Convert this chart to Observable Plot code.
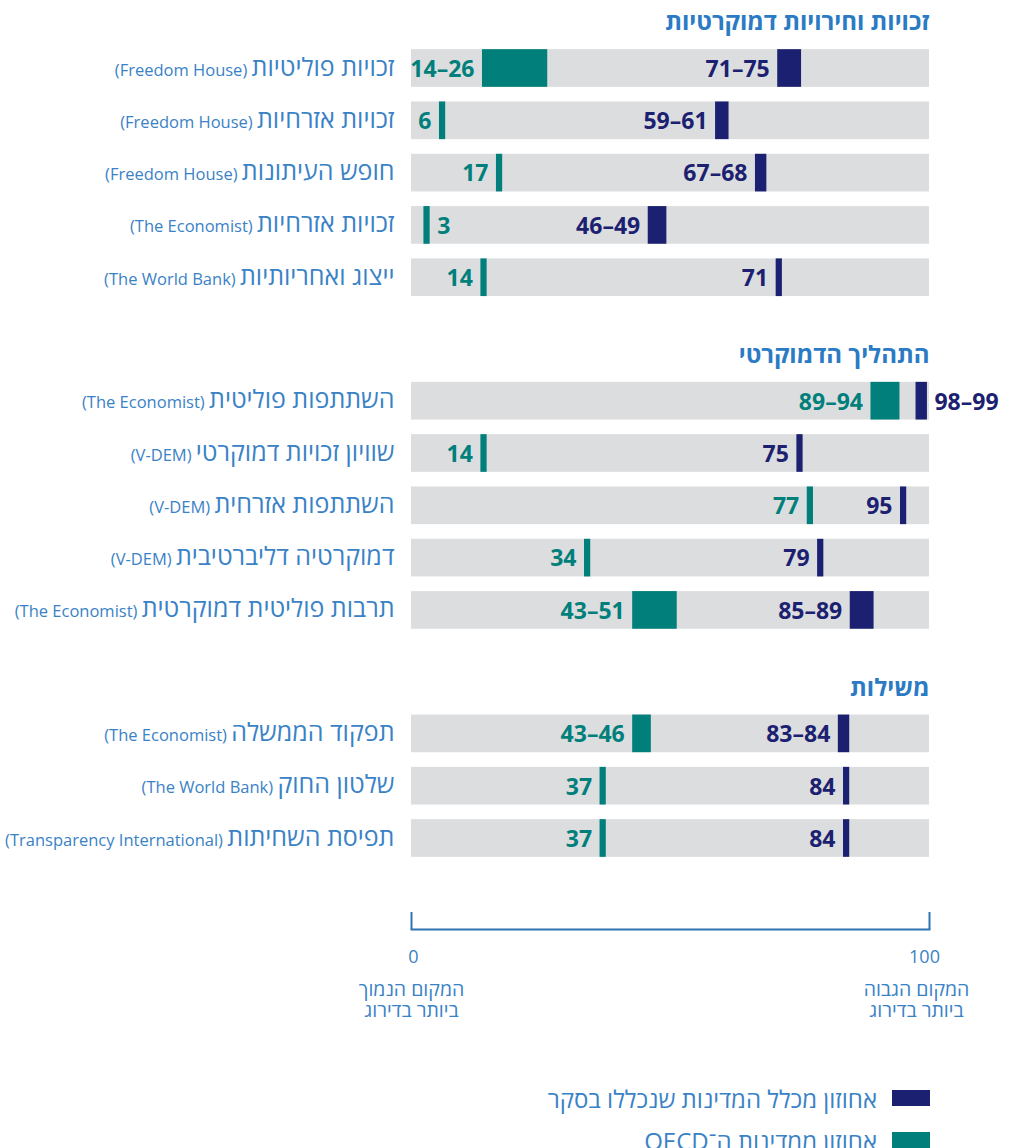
<!DOCTYPE html>
<html lang="he">
<head>
<meta charset="utf-8">
<script src="https://cdn.jsdelivr.net/npm/d3@7"></script>
<script src="https://cdn.jsdelivr.net/npm/@observablehq/plot@0.6"></script>
<style>
  html, body { margin: 0; padding: 0; background: #fff; }
  body { width: 1010px; font-family: "Open Sans", "Noto Sans", "DejaVu Sans", sans-serif; }
  #chart svg { display: block; }
  .legend { direction: rtl; padding-right: 80px; margin-top: 37px; }
  .legend .item { display: flex; align-items: center; gap: 15px; height: 42px; color: #3a82c6; font-size: 24px; }
  .legend .sw { width: 38px; height: 16px; flex: none; }
</style>
</head>
<body>
<div id="chart"></div>
<div class="legend" id="legend"></div>
<script>
// ---------- data ----------
const groupTitles = ["זכויות וחירויות דמוקרטיות", "התהליך הדמוקרטי", "משילות"];
const rowGroup = [0, 0, 0, 0, 0, 1, 1, 1, 1, 1, 2, 2, 2];
const rowNames = [
  "זכויות פוליטיות", "זכויות אזרחיות", "חופש העיתונות", "זכויות אזרחיות", "ייצוג ואחריותיות",
  "השתתפות פוליטית", "שוויון זכויות דמוקרטי", "השתתפות אזרחית", "דמוקרטיה דליברטיבית", "תרבות פוליטית דמוקרטית",
  "תפקוד הממשלה", "שלטון החוק", "תפיסת השחיתות"
];
const rowSources = [
  "Freedom House", "Freedom House", "Freedom House", "The Economist", "The World Bank",
  "The Economist", "V-DEM", "V-DEM", "V-DEM", "The Economist",
  "The Economist", "The World Bank", "Transparency International"
];
// percentile among all surveyed countries (low, high)
const allLow  = [71, 59, 67, 46, 71, 98, 75, 95, 79, 85, 83, 84, 84];
const allHigh = [75, 61, 68, 49, 71, 99, 75, 95, 79, 89, 84, 84, 84];
// percentile among OECD countries (low, high)
const oecdLow  = [14, 6, 17, 3, 14, 89, 14, 77, 34, 43, 43, 37, 37];
const oecdHigh = [26, 6, 17, 3, 14, 94, 14, 77, 34, 51, 46, 37, 37];
const axisTicks = [0, 100];
const axisNotes = ["המקום הנמוך\nביותר בדירוג", "המקום הגבוה\nביותר בדירוג"];
const legendLabels = ["אחוזון מכלל המדינות שנכללו בסקר", "אחוזון ממדינות ה־OECD"];

// ---------- styles ----------
const NAVY = "#1b2170", TEAL = "#007f7b", GRAY = "#dcdddf", BLUE = "#3a82c6", HEAD = "#2b7bc4";
const FONT = `"Open Sans", "Noto Sans", "DejaVu Sans", sans-serif`;
const GAP = 1.36;   // extra rows between groups
const HALF = 0.36;  // half bar thickness (rows)

// marker extent: single values get a thin tick, ranges a slightly padded block
function extent(lo, hi) {
  const mid = (lo + hi) / 2;
  const half = lo === hi ? 0.6 : Math.max((hi - lo) / 2 + 0.3, 1.1);
  return [mid - half, mid + half];
}

// ---------- table ----------
const rows = rowNames.map((name, i) => {
  const [a1, a2] = extent(allLow[i], allHigh[i]);
  const [o1, o2] = extent(oecdLow[i], oecdHigh[i]);
  return {
    name, source: rowSources[i], group: rowGroup[i],
    pos: i + rowGroup[i] * GAP,
    a1, a2, o1, o2,
    aText: allLow[i] === allHigh[i] ? `${allLow[i]}` : `${allLow[i]}–${allHigh[i]}`,
    oText: oecdLow[i] === oecdHigh[i] ? `${oecdLow[i]}` : `${oecdLow[i]}–${oecdHigh[i]}`,
    aRight: allLow[i] - oecdHigh[i] < 10,
    oRight: oecdLow[i] < 5
  };
});
const firstRows = groupTitles.map((t, g) => ({title: t, pos: rows.find(r => r.group === g).pos}));
const maxPos = d3.max(rows, r => r.pos);

const H = 1040, MT = 0, MB = H - 929;

const valueText = {fontFamily: FONT, fontSize: 23, fontWeight: "bold", lineAnchor: "middle", dy: 1};

const plot = Plot.plot({
  width: 1010,
  height: H,
  marginLeft: 411,
  marginRight: 81,
  marginTop: MT,
  marginBottom: MB,
  x: {domain: [0, 100], axis: null},
  y: {domain: [0, maxPos], range: [68, 838], axis: null},
  style: {fontFamily: FONT, background: "white"},
  marks: [
    // group headers
    Plot.text(firstRows, {x: 100, y: "pos", text: "title", textAnchor: "end", dy: -46,
      fill: HEAD, fontSize: 24, fontWeight: "bold", fontFamily: FONT}),
    // background bars
    Plot.rect(rows, {x1: 0, x2: 100, y1: d => d.pos - HALF, y2: d => d.pos + HALF, fill: GRAY}),
    // OECD range
    Plot.rect(rows, {x1: "o1", x2: "o2", y1: d => d.pos - HALF, y2: d => d.pos + HALF, fill: TEAL}),
    // all-countries range
    Plot.rect(rows, {x1: "a1", x2: "a2", y1: d => d.pos - HALF, y2: d => d.pos + HALF, fill: NAVY}),
    // value labels
    Plot.text(rows.filter(d => !d.oRight), {x: "o1", y: "pos", text: "oText", textAnchor: "end", dx: -8, fill: TEAL, ...valueText}),
    Plot.text(rows.filter(d => d.oRight), {x: "o2", y: "pos", text: "oText", textAnchor: "start", dx: 7, fill: TEAL, ...valueText}),
    Plot.text(rows.filter(d => !d.aRight), {x: "a1", y: "pos", text: "aText", textAnchor: "end", dx: -8, fill: NAVY, ...valueText}),
    Plot.text(rows.filter(d => d.aRight), {x: "a2", y: "pos", text: "aText", textAnchor: "start", dx: 7, fill: NAVY, ...valueText}),
    // row labels (source first in logical order so it sits on the left)
    Plot.text(rows, {x: 0, y: "pos", text: d => `(${d.source}) ${d.name}`, textAnchor: "end", dx: -17, dy: -1,
      fill: BLUE, fontSize: 25, fontFamily: FONT, lineAnchor: "middle"}),
    // bottom scale bracket
    Plot.frame({anchor: "bottom", stroke: "#2e75b6", strokeWidth: 2}),
    Plot.ruleX(axisTicks, {x: d => d, stroke: "#2e75b6", strokeWidth: 2, insetTop: 929 - MT - 17}),
    Plot.text(axisTicks.slice(0, 1), {x: d => d, frameAnchor: "bottom", dy: 28, dx: 2, text: d => `${d}`, fill: BLUE, fontSize: 18, lineAnchor: "middle"}),
    Plot.text(axisTicks.slice(1), {x: d => d, frameAnchor: "bottom", dy: 28, dx: -5, text: d => `${d}`, fill: BLUE, fontSize: 18, lineAnchor: "middle"}),
    Plot.text([axisTicks[0]], {x: d => d, frameAnchor: "bottom", dy: 52, text: () => axisNotes[0], fill: BLUE, fontSize: 19.5, lineAnchor: "top", lineHeight: 1.05}),
    Plot.text([axisTicks[1]], {x: d => d, frameAnchor: "bottom", dy: 52, dx: -13, text: () => axisNotes[1], fill: BLUE, fontSize: 19.5, lineAnchor: "top", lineHeight: 1.05})
  ]
});

// split row labels into a smaller Latin source part and a larger Hebrew part
d3.select(plot).selectAll("text").each(function() {
  const t = this.textContent;
  const m = /^\((.+?)\) (.+)$/.exec(t);
  if (!m) return;
  const sel = d3.select(this);
  sel.text(null);
  sel.append("tspan").attr("font-size", 16.5).text(`(${m[1]}) `);
  sel.append("tspan").attr("font-size", 25).text(m[2]);
});

document.getElementById("chart").appendChild(plot);

// legend
const legend = d3.select("#legend");
[NAVY, TEAL].forEach((c, i) => {
  const item = legend.append("div").attr("class", "item");
  item.append("div").attr("class", "sw").style("background", c);
  item.append("div").text(legendLabels[i]);
});
</script>
</body>
</html>
